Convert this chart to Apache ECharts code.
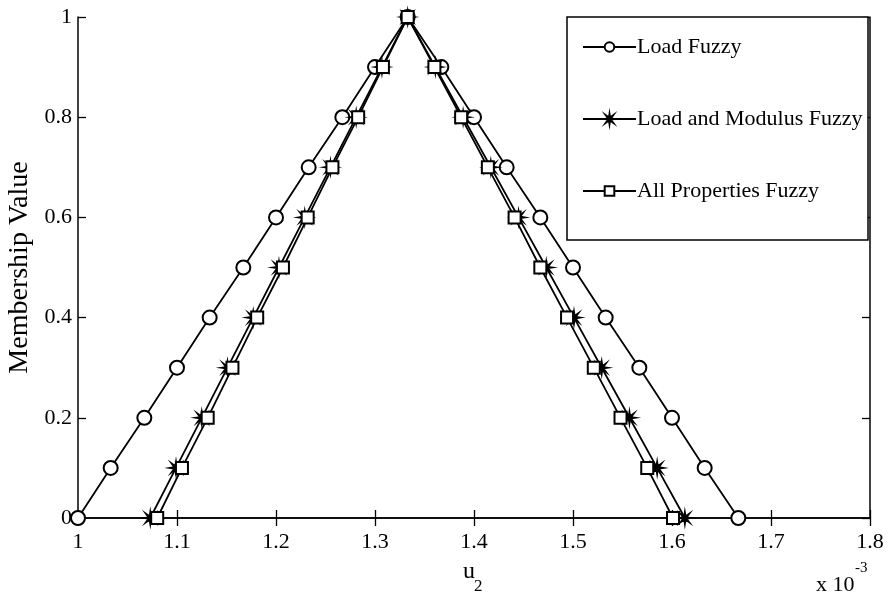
<!DOCTYPE html>
<html>
<head>
<meta charset="utf-8">
<title>Membership functions of u2</title>
<script src="https://cdn.jsdelivr.net/npm/echarts@6/dist/echarts.min.js"></script>
<style>
  html, body { margin: 0; padding: 0; background: #fff; }
  #chart { width: 891px; height: 601px; }
</style>
</head>
<body>
<div id="chart"></div>
<script>
// Membership levels: rising branch then falling branch of each triangular fuzzy number
const membership = [0, 0.1, 0.2, 0.3, 0.4, 0.5, 0.6, 0.7, 0.8, 0.9, 1, 0.9, 0.8, 0.7, 0.6, 0.5, 0.4, 0.3, 0.2, 0.1, 0];

// u2 displacement (x 10^-3) at each membership level
const loadFuzzy = [1.000, 1.033, 1.067, 1.100, 1.133, 1.167, 1.200, 1.233, 1.267, 1.300, 1.333,
                   1.367, 1.400, 1.433, 1.467, 1.500, 1.533, 1.567, 1.600, 1.633, 1.667];
const loadModulusFuzzy = [1.073, 1.099, 1.125, 1.151, 1.177, 1.203, 1.229, 1.255, 1.281, 1.307, 1.333,
                          1.361, 1.389, 1.417, 1.445, 1.473, 1.501, 1.529, 1.557, 1.585, 1.613];
const allPropertiesFuzzy = [1.080, 1.105, 1.131, 1.156, 1.181, 1.207, 1.232, 1.257, 1.283, 1.308, 1.333,
                            1.360, 1.387, 1.414, 1.441, 1.467, 1.494, 1.521, 1.548, 1.575, 1.601];

const seriesNames = ['Load Fuzzy', 'Load and Modulus Fuzzy', 'All Properties Fuzzy'];
const xTicks = { min: 1, max: 1.8, step: 0.1 };
const yTicks = { min: 0, max: 1, step: 0.2 };

const FONT = '"Liberation Serif", "Times New Roman", serif';
const INK = '#000';

// Eight-armed asterisk marker
const asterisk = 'path://M10 0 L11.148 7.228 L17.071 2.929 L12.772 8.852 L20 10 L12.772 11.148 ' +
  'L17.071 17.071 L11.148 12.772 L10 20 L8.852 12.772 L2.929 17.071 L7.228 11.148 L0 10 ' +
  'L7.228 8.852 L2.929 2.929 L8.852 7.228 Z';

const pairs = xs => xs.map((x, i) => [x, membership[i]]);

const chart = echarts.init(document.getElementById('chart'), null, { renderer: 'canvas' });

const fmt = v => String(+v.toFixed(1));

const tickStyle = { show: true, inside: true, length: 8, lineStyle: { color: INK, width: 1.3 } };
const axisLine = { show: true, lineStyle: { color: INK, width: 1.5 } };

function lineSeries(name, xs, symbol, size) {
  return {
    name: name,
    type: 'line',
    data: pairs(xs),
    symbol: symbol,
    symbolSize: size,
    showAllSymbol: true,
    lineStyle: { color: INK, width: 1.8 },
    itemStyle: { color: INK, borderColor: INK, borderWidth: 1.5 },
    emphasis: { disabled: true },
    animation: false,
    z: 2
  };
}

chart.setOption({
  backgroundColor: '#fff',
  animation: false,
  grid: { left: 78, top: 17, right: 21, bottom: 83, containLabel: false, outerBoundsMode: 'none' },
  xAxis: [
    {
      type: 'value', min: xTicks.min, max: xTicks.max, interval: xTicks.step,
      position: 'bottom',
      axisLine: axisLine, axisTick: tickStyle, splitLine: { show: false },
      axisLabel: { color: INK, fontFamily: FONT, fontSize: 22, margin: 13, formatter: fmt, showMinLabel: true, showMaxLabel: true }
    },
    {
      type: 'value', min: xTicks.min, max: xTicks.max, interval: xTicks.step,
      position: 'top',
      axisLine: axisLine, axisTick: tickStyle, splitLine: { show: false },
      axisLabel: { show: false }
    }
  ],
  yAxis: [
    {
      type: 'value', min: yTicks.min, max: yTicks.max, interval: yTicks.step,
      position: 'left',
      name: 'Membership Value', nameLocation: 'middle', nameGap: 39,
      nameTextStyle: { color: INK, fontFamily: FONT, fontSize: 28 },
      axisLine: axisLine, axisTick: tickStyle, splitLine: { show: false },
      axisLabel: { color: INK, fontFamily: FONT, fontSize: 22, margin: 6, formatter: fmt }
    },
    {
      type: 'value', min: yTicks.min, max: yTicks.max, interval: yTicks.step,
      position: 'right',
      axisLine: axisLine, axisTick: tickStyle, splitLine: { show: false },
      axisLabel: { show: false }
    }
  ],
  legend: {
    data: seriesNames,
    orient: 'vertical',
    left: 577, top: 30,
    itemWidth: 53, itemHeight: 12,
    itemGap: 48,
    textStyle: { color: INK, fontFamily: FONT, fontSize: 22, lineHeight: 24, padding: [0, 0, 0, -4] },
    selectedMode: false,
    z: 6
  },
  graphic: [
    // legend frame
    {
      type: 'rect', z: 5,
      shape: { x: 567, y: 17, width: 301, height: 223 },
      style: { fill: '#fff', stroke: INK, lineWidth: 1.5 }
    },
    // x-axis title u2
    {
      type: 'text', left: 463, top: 560, z: 6,
      style: { text: 'u', fill: INK, font: '24px ' + FONT }
    },
    {
      type: 'text', left: 474, top: 578, z: 6,
      style: { text: '2', fill: INK, font: '17px ' + FONT }
    },
    // exponent note for the x axis
    {
      type: 'text', left: 816, top: 574, z: 6,
      style: { text: 'x 10', fill: INK, font: '22px ' + FONT }
    },
    {
      type: 'text', left: 855, top: 561, z: 6,
      style: { text: '-3', fill: INK, font: '15px ' + FONT }
    }
  ],
  series: [
    lineSeries(seriesNames[0], loadFuzzy, 'emptyCircle', 14),
    lineSeries(seriesNames[1], loadModulusFuzzy, asterisk, 14),
    lineSeries(seriesNames[2], allPropertiesFuzzy, 'emptyRect', 12)
  ]
});
</script>
</body>
</html>
